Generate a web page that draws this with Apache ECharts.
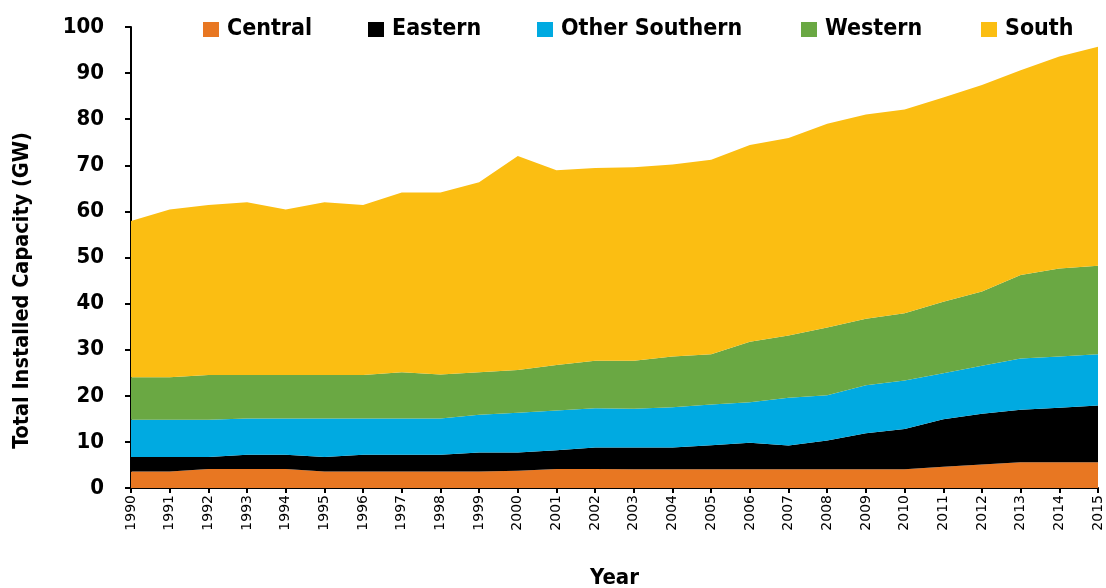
<!DOCTYPE html>
<html>
<head>
<meta charset="utf-8">
<script src="https://cdn.jsdelivr.net/npm/echarts@6/dist/echarts.min.js"></script>
<style>
  html, body { margin: 0; padding: 0; background: #fff; }
  #chart { width: 1106px; height: 588px; }
</style>
</head>
<body>
<div id="chart"></div>
<script>
const years = ['1990', '1991', '1992', '1993', '1994', '1995', '1996', '1997', '1998', '1999', '2000', '2001', '2002',
    '2003', '2004', '2005', '2006', '2007', '2008', '2009', '2010', '2011', '2012', '2013', '2014', '2015']

// cumulative tops (GW)
const topCentral = [3.6, 3.6, 4.1, 4.1, 4.1, 3.6, 3.6, 3.6, 3.6, 3.6, 3.75, 4.1, 4.1,
    4.05, 4.05, 4.05, 4.05, 4.05, 4.05, 4.05, 4.05, 4.6, 5.1, 5.6, 5.6, 5.6]
const topEastern = [6.7, 6.7, 6.7, 7.2, 7.2, 6.7, 7.2, 7.2, 7.2, 7.7, 7.7, 8.2, 8.8,
    8.8, 8.8, 9.3, 9.8, 9.2, 10.3, 11.9, 12.8, 14.9, 16.1, 17.0, 17.4, 17.9]
const topOtherSouthern = [14.8, 14.8, 14.8, 15.1, 15.1, 15.1, 15.1, 15.1, 15.1, 15.9, 16.3, 16.8, 17.3,
    17.2, 17.5, 18.1, 18.6, 19.6, 20.1, 22.3, 23.3, 24.9, 26.5, 28.1, 28.5, 29.0]
const topWestern = [24.0, 24.0, 24.5, 24.5, 24.5, 24.5, 24.5, 25.1, 24.6, 25.1, 25.6, 26.7, 27.6,
    27.6, 28.5, 29.0, 31.7, 33.1, 34.8, 36.7, 37.9, 40.4, 42.6, 46.2, 47.6, 48.2]
const topSouth = [57.9, 60.4, 61.4, 62.0, 60.4, 62.0, 61.4, 64.1, 64.1, 66.3, 72.0, 68.9, 69.4,
    69.6, 70.2, 71.2, 74.4, 75.9, 79.0, 81.0, 82.1, 84.7, 87.4, 90.6, 93.6, 95.7]

const yTicks = [0, 10, 20, 30, 40, 50, 60, 70, 80, 90, 100]

const names = ['Central', 'Eastern', 'Other Southern', 'Western', 'South']
const colors = ['#E87722', '#000000', '#00AAE1', '#6AA843', '#FBBE12']
const tops = [topCentral, topEastern, topOtherSouthern, topWestern, topSouth]
const legendLeft = [203, 368, 537, 801, 981]

const diff = (a, b) => a.map((v, i) => +(v - (b ? b[i] : 0)).toFixed(2))
const seriesValues = tops.map((t, i) => diff(t, tops[i - 1]))

const boldFont = '"Liberation Sans Narrow", "DejaVu Sans Condensed", sans-serif'

const chart = echarts.init(document.getElementById('chart'))

const seriesData = names.map((name, i) => ({
    name: name,
    type: 'line',
    stack: 'total',
    data: seriesValues[i],
    symbol: 'none',
    lineStyle: { width: 0 },
    areaStyle: { color: colors[i], opacity: 1 },
    itemStyle: { color: colors[i] },
}))

// one legend per item so each sits where it does in the picture
const legends = names.map((name, i) => ({
    data: [name],
    top: 18,
    left: legendLeft[i],
    padding: 0,
    itemWidth: 16,
    itemHeight: 15,
    icon: 'rect',
    textStyle: { fontFamily: boldFont, fontWeight: 'bold', fontSize: 23, color: '#000', padding: [0, 0, 0, 3] },
}))

chart.setOption({
    animation: false,
    legend: legends,
    grid: { left: 131, right: 8, top: 27, bottom: 100, outerBoundsMode: 'none', containLabel: false },
    xAxis: {
        type: 'category',
        boundaryGap: false,
        data: years,
        name: 'Year',
        nameLocation: 'middle',
        nameGap: 79,
        nameTextStyle: { fontFamily: boldFont, fontWeight: 'bold', fontSize: 22, color: '#000' },
        axisLine: { lineStyle: { color: '#000', width: 2 } },
        axisTick: { alignWithLabel: true, length: 5, lineStyle: { color: '#000', width: 2 } },
        axisLabel: { rotate: 90, interval: 0, fontFamily: 'DejaVu Sans', fontSize: 14, color: '#000', margin: 7 },
        splitLine: { show: false },
    },
    yAxis: {
        type: 'value',
        min: yTicks[0],
        max: yTicks[yTicks.length - 1],
        interval: 10,
        name: 'Total Installed Capacity (GW)',
        nameLocation: 'middle',
        nameGap: 98,
        nameTextStyle: { fontFamily: boldFont, fontWeight: 'bold', fontSize: 21.5, color: '#000', padding: [0, 66, 0, 0] },
        axisLine: { show: true, lineStyle: { color: '#000', width: 2 } },
        axisTick: { show: true, inside: false, length: 6, lineStyle: { color: '#000', width: 2 } },
        axisLabel: { fontFamily: boldFont, fontWeight: 'bold', fontSize: 22, color: '#000', margin: 27 },
        splitLine: { show: false },
    },
    series: seriesData,
})
</script>
</body>
</html>
